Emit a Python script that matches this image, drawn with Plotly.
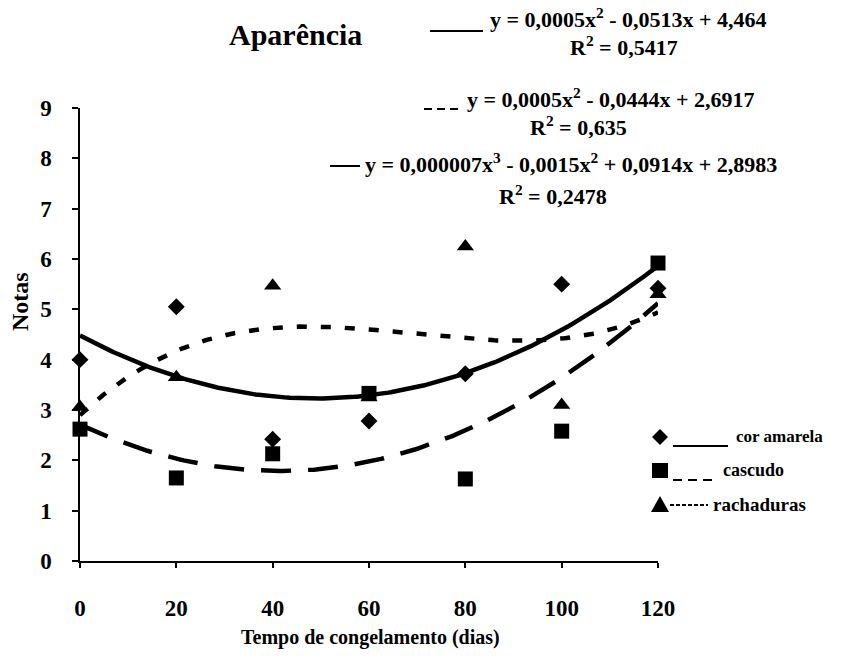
import numpy as np
import plotly.graph_objects as go

# ---------------- data ----------------
dias = [0, 20, 40, 60, 80, 100, 120]
cor_amarela = [4.0, 5.05, 2.42, 2.78, 3.72, 5.5, 5.42]
cascudo = [2.62, 1.65, 2.13, 3.33, 1.63, 2.58, 5.92]
rachaduras = [3.06, 3.65, 5.47, 3.25, 6.25, 3.1, 5.3]

x_ticks = [0, 20, 40, 60, 80, 100, 120]
y_ticks = [0, 1, 2, 3, 4, 5, 6, 7, 8, 9]

series_names = ["cor amarela", "cascudo", "rachaduras"]
title_text = "Aparência"
x_title = "Tempo de congelamento (dias)"
y_title = "Notas"
eq_texts = [
    "y = 0,0005x<sup>2</sup> - 0,0513x + 4,464",
    "y = 0,0005x<sup>2</sup> - 0,0444x + 2,6917",
    "y = 0,000007x<sup>3</sup> - 0,0015x<sup>2</sup> + 0,0914x + 2,8983",
]
r2_texts = [
    "R<sup>2</sup> = 0,5417",
    "R<sup>2</sup> = 0,635",
    "R<sup>2</sup> = 0,2478",
]

# ---------------- layout geometry ----------------
W, H = 846, 663
L, R, T, B = 80, 188, 108, 102
PW, PH = W - L - R, H - T - B
FONT = "Liberation Serif, Times New Roman, serif"


def px(x):
    return (x - L) / PW


def py(y):
    return (H - B - y) / PH


# ---------------- trend lines (least squares fits) ----------------
xs = np.linspace(0, 120, 241)
fit_a = np.polyval(np.polyfit(dias, cor_amarela, 2), xs)
fit_c = np.polyval(np.polyfit(dias, cascudo, 2), xs)
fit_r = np.polyval(np.polyfit(dias, rachaduras, 3), xs)

fig = go.Figure()

fig.add_trace(go.Scatter(x=xs, y=fit_r, mode="lines",
                         line=dict(color="black", width=4.5, dash="10px,14px"),
                         hoverinfo="skip", showlegend=False))
fig.add_trace(go.Scatter(x=xs, y=fit_c, mode="lines",
                         line=dict(color="black", width=4.5, dash="30px,17px"),
                         hoverinfo="skip", showlegend=False))
fig.add_trace(go.Scatter(x=xs, y=fit_a, mode="lines",
                         line=dict(color="black", width=4.5),
                         hoverinfo="skip", showlegend=False))

fig.add_trace(go.Scatter(x=dias, y=rachaduras, mode="markers", name=series_names[2],
                         marker=dict(symbol="triangle-up", size=15, color="black"),
                         cliponaxis=False, showlegend=False))
fig.add_trace(go.Scatter(x=dias, y=cascudo, mode="markers", name=series_names[1],
                         marker=dict(symbol="square", size=15, color="black"),
                         cliponaxis=False, showlegend=False))
fig.add_trace(go.Scatter(x=dias, y=cor_amarela, mode="markers", name=series_names[0],
                         marker=dict(symbol="diamond", size=13, color="black"),
                         cliponaxis=False, showlegend=False))

annotations = []
shapes = []


def text(s, x, y, size, xanchor="center", angle=0):
    annotations.append(dict(text="<b>" + s + "</b>", x=px(x), y=py(y), xref="paper", yref="paper",
                            xanchor=xanchor, yanchor="middle", showarrow=False,
                            textangle=angle,
                            font=dict(family=FONT, size=size, color="black")))


def hline(x0, x1, y, dash="solid", width=2):
    shapes.append(dict(type="line", xref="paper", yref="paper",
                       x0=px(x0), x1=px(x1), y0=py(y), y1=py(y),
                       line=dict(color="black", width=width, dash=dash)))


def poly(points):
    path = "M " + " L ".join(f"{px(a):.5f},{py(b):.5f}" for a, b in points) + " Z"
    shapes.append(dict(type="path", xref="paper", yref="paper", path=path,
                       fillcolor="black", line=dict(color="black", width=0)))


# title + axis titles
text(title_text, 295, 34, 30)
text(y_title, 20, 302, 24, angle=-90)
text(x_title, 370, 637, 20)

# equations
hline(430, 483, 31, width=2)
text(eq_texts[0], 488, 18, 22, xanchor="left")
text(r2_texts[0], 624, 46, 22)

hline(424, 462, 109, dash="8px,5px", width=2)
text(eq_texts[1], 465, 98, 22, xanchor="left")
text(r2_texts[1], 578, 126, 22)

hline(330, 360, 166, width=2)
text(eq_texts[2], 363, 163, 22, xanchor="left")
text(r2_texts[2], 553, 195, 22)

# legend (manual)
poly([(660, 429), (668, 437), (660, 445), (652, 437)])
hline(673, 728, 446, width=2)
text(series_names[0], 734, 437, 17, xanchor="left")

poly([(652, 463), (668, 463), (668, 478), (652, 478)])
hline(673, 718, 480, dash="9px,6px", width=2)
text(series_names[1], 721, 470, 18, xanchor="left")

poly([(660, 496), (669, 512), (651, 512)])
hline(670, 708, 505, dash="4px,2px", width=2)
text(series_names[2], 711, 504, 19, xanchor="left")

fig.update_layout(
    width=W, height=H,
    margin=dict(l=L, r=R, t=T, b=B, pad=0),
    paper_bgcolor="white", plot_bgcolor="white",
    showlegend=False,
    annotations=annotations,
    shapes=shapes,
    xaxis=dict(range=[0, 120], tickvals=x_ticks, ticktext=["<b>%d</b>" % v for v in x_ticks],
               showgrid=False, zeroline=False, showline=True, linecolor="black", linewidth=2,
               ticks="outside", ticklen=5, tickwidth=1.5, tickcolor="black",
               ticklabelstandoff=20,
               tickfont=dict(family=FONT, size=23, color="black")),
    yaxis=dict(range=[0, 9], tickvals=y_ticks, ticktext=["<b>%d</b>" % v for v in y_ticks],
               showgrid=False, zeroline=False, showline=True, linecolor="black", linewidth=1.5,
               ticks="outside", ticklen=6, tickwidth=1.5, tickcolor="black",
               ticklabelstandoff=16,
               tickfont=dict(family=FONT, size=23, color="black")),
)

fig.write_html("out.html")
